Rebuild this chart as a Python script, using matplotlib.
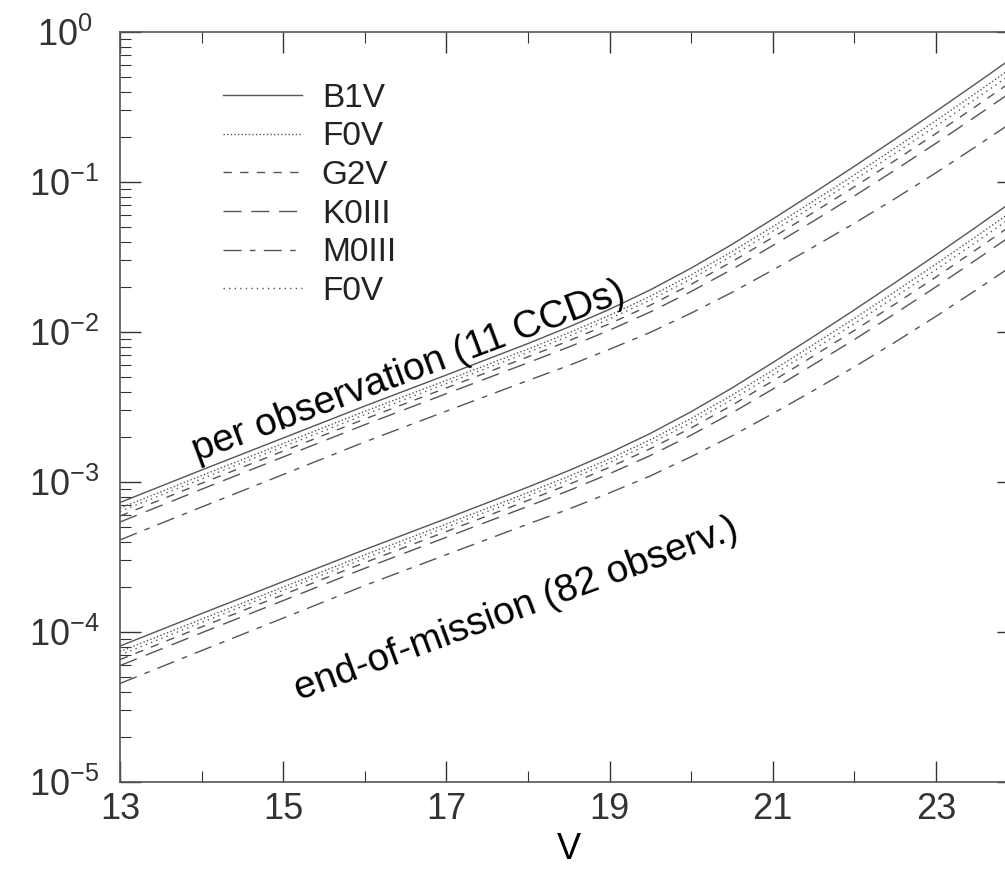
import matplotlib
matplotlib.use("Agg")
import matplotlib.pyplot as plt
import numpy as np

plt.rcParams['font.family'] = ['Liberation Sans', 'DejaVu Sans']
plt.rcParams['mathtext.fontset'] = 'custom'
plt.rcParams['mathtext.rm'] = 'Liberation Sans'
plt.rcParams['mathtext.default'] = 'regular'

# ---- data ----
V = [13, 14, 15, 16, 17, 18, 18.5, 19, 19.5, 20, 20.5, 21, 21.5, 22, 22.5, 23, 23.5, 23.85]

labels = ["B1V", "F0V", "G2V", "K0III", "M0III", "F0V"]

# per observation (11 CCDs)
obs_B1V = [7.30e-4, 1.202e-3, 1.965e-3, 3.21e-3, 5.17e-3, 8.38e-3, 1.080e-2, 1.417e-2, 1.911e-2,
           2.667e-2, 3.837e-2, 5.666e-2, 8.457e-2, 0.1273, 0.1935, 0.2960, 0.4571, 0.6223]
obs_F0V = [6.70e-4, 1.104e-3, 1.806e-3, 2.96e-3, 4.76e-3, 7.70e-3, 9.88e-3, 1.292e-2, 1.733e-2,
           2.404e-2, 3.436e-2, 5.039e-2, 7.469e-2, 0.1116, 0.1687, 0.2569, 0.3954, 0.5370]
obs_G2V = [5.93e-4, 9.80e-4, 1.606e-3, 2.63e-3, 4.24e-3, 6.83e-3, 8.73e-3, 1.136e-2, 1.511e-2,
           2.080e-2, 2.943e-2, 4.274e-2, 6.277e-2, 9.29e-2, 0.1393, 0.2107, 0.3228, 0.4369]
obs_K0III = [5.41e-4, 8.95e-4, 1.468e-3, 2.41e-3, 3.88e-3, 6.24e-3, 7.94e-3, 1.029e-2, 1.361e-2,
             1.862e-2, 2.616e-2, 3.771e-2, 5.497e-2, 8.07e-2, 0.1203, 0.1812, 0.2764, 0.3733]
obs_M0III = [4.11e-4, 6.81e-4, 1.122e-3, 1.85e-3, 2.97e-3, 4.75e-3, 5.98e-3, 7.67e-3, 9.95e-3,
             1.337e-2, 1.837e-2, 2.590e-2, 3.693e-2, 5.305e-2, 7.76e-2, 0.1152, 0.1738, 0.2330]
obs_F0V_b = [6.36e-4, 1.049e-3, 1.718e-3, 2.81e-3, 4.53e-3, 7.31e-3, 9.37e-3, 1.223e-2, 1.634e-2,
             2.259e-2, 3.216e-2, 4.695e-2, 6.932e-2, 0.1031, 0.1554, 0.2360, 0.3624, 0.4916]

# end-of-mission (82 observ.)
eom_B1V = [8.06e-5, 1.327e-4, 2.169e-4, 3.543e-4, 5.707e-4, 9.25e-4, 1.192e-3, 1.564e-3, 2.109e-3,
           2.944e-3, 4.235e-3, 6.254e-3, 9.335e-3, 1.405e-2, 2.136e-2, 3.267e-2, 5.045e-2, 6.869e-2]
eom_F0V = [7.40e-5, 1.219e-4, 1.993e-4, 3.267e-4, 5.254e-4, 8.50e-4, 1.091e-3, 1.426e-3, 1.913e-3,
           2.654e-3, 3.793e-3, 5.562e-3, 8.244e-3, 1.232e-2, 1.862e-2, 2.836e-2, 4.364e-2, 5.927e-2]
eom_G2V = [6.546e-5, 1.082e-4, 1.773e-4, 2.903e-4, 4.680e-4, 7.539e-4, 9.636e-4, 1.254e-3, 1.668e-3,
           2.296e-3, 3.249e-3, 4.718e-3, 6.929e-3, 1.025e-2, 1.538e-2, 2.326e-2, 3.563e-2, 4.823e-2]
eom_K0III = [5.972e-5, 9.879e-5, 1.620e-4, 2.660e-4, 4.283e-4, 6.888e-4, 8.764e-4, 1.136e-3, 1.502e-3,
             2.055e-3, 2.888e-3, 4.162e-3, 6.068e-3, 8.908e-3, 1.328e-2, 2.000e-2, 3.051e-2, 4.120e-2]
eom_M0III = [4.537e-5, 7.517e-5, 1.238e-4, 2.042e-4, 3.278e-4, 5.243e-4, 6.601e-4, 8.466e-4, 1.098e-3,
             1.476e-3, 2.028e-3, 2.859e-3, 4.076e-3, 5.856e-3, 8.565e-3, 1.272e-2, 1.918e-2, 2.572e-2]
eom_F0V_b = [7.02e-5, 1.158e-4, 1.896e-4, 3.102e-4, 5.000e-4, 8.069e-4, 1.034e-3, 1.350e-3, 1.804e-3,
             2.494e-3, 3.550e-3, 5.182e-3, 7.652e-3, 1.138e-2, 1.715e-2, 2.605e-2, 4.000e-2, 5.426e-2]

xticks = [13, 15, 17, 19, 21, 23]
yticks = [1e-5, 1e-4, 1e-3, 1e-2, 1e-1, 1e0]
ytick_labels = [r'$10^{-5}$', r'$10^{-4}$', r'$10^{-3}$', r'$10^{-2}$', r'$10^{-1}$', r'$10^{0}$']

# ---- styling ----
styles = [
    '-',
    (0, (1, 1.6)),
    (0, (6, 6)),
    (0, (13, 7)),
    (0, (13, 6, 4, 6)),
    (0, (1, 3)),
]
lc = '#555555'
lw = 1.0

fig = plt.figure(figsize=(10.05, 8.73), dpi=100)
ax = fig.add_axes([120 / 1005, 1 - 782 / 873, 897.6 / 1005, 750 / 873])

obs = [obs_B1V, obs_F0V, obs_G2V, obs_K0III, obs_M0III, obs_F0V_b]
eom = [eom_B1V, eom_F0V, eom_G2V, eom_K0III, eom_M0III, eom_F0V_b]

for lab, ls, y1, y2 in zip(labels, styles, obs, eom):
    ax.plot(V, y1, color=lc, lw=lw, ls=ls, label=lab)
    ax.plot(V, y2, color=lc, lw=lw, ls=ls)

ax.set_yscale('log')
ax.set_xlim(13, 24)
ax.set_ylim(1e-5, 1e0)
ax.set_xticks(xticks)
ax.set_xticks(np.arange(14, 24, 2), minor=True)
ax.set_yticks(yticks)
ax.set_yticklabels(ytick_labels)

ax.tick_params(which='both', direction='in', top=True, right=True, colors='#333333')
ax.tick_params(which='major', length=15, width=1, labelsize=26)
ax.tick_params(axis='x', which='major', pad=7)
ax.tick_params(axis='y', which='major', pad=40)
ax.tick_params(which='minor', length=8, width=0.8)
for lbl in ax.get_yticklabels():
    lbl.set_horizontalalignment('center')
for sp in ax.spines.values():
    sp.set_color('#555555')
    sp.set_linewidth(1.2)

ax.set_xlabel('V', fontsize=26, labelpad=4)

ax.text(13.95, 1.38e-3, 'per observation (11 CCDs)', fontsize=28, rotation=20.5,
        rotation_mode='anchor', ha='left', va='baseline')
ax.text(15.2, 3.5e-5, 'end-of-mission (82 observ.)', fontsize=28, rotation=20.3,
        rotation_mode='anchor', ha='left', va='baseline')

leg = ax.legend(loc='upper left', bbox_to_anchor=(0.096, 0.9547), frameon=False,
                fontsize=24, handlelength=2.37, handletextpad=0.6, labelspacing=0.23,
                borderpad=0)
for t in leg.get_texts():
    t.set_color('#222222')

fig.savefig('out.png', dpi=100)
